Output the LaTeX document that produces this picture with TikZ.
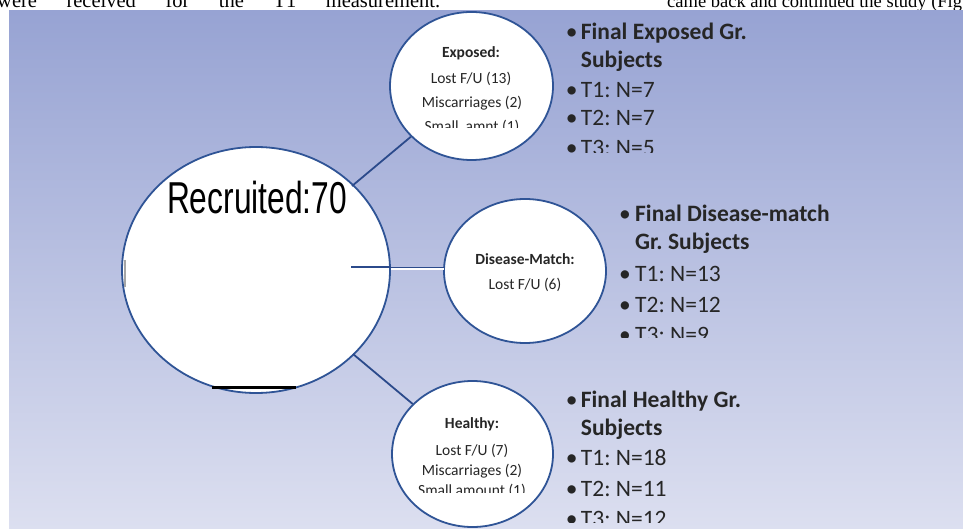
\documentclass[tikz,border=0pt]{standalone}
\usepackage{fontspec}
\setmainfont{Carlito}
\newfontfamily\pagefont{Liberation Serif}
\newfontfamily\recfont{Liberation Sans}
\usetikzlibrary{shapes.geometric}
\definecolor{bgtop}{HTML}{97A3D3}
\definecolor{bgbot}{HTML}{DCDFF0}
\definecolor{ringblue}{HTML}{2F5496}
\definecolor{navyline}{HTML}{2B4A8B}
\definecolor{txt}{HTML}{262626}
\tikzset{
  ring/.style={ellipse, draw=ringblue, line width=1.8pt, fill=white, inner sep=0pt},
  conn/.style={draw=navyline, line width=1.8pt},
  ctext/.style={anchor=base, inner sep=0pt, text=txt, font=\fontsize{15.5}{18}\selectfont},
  ltext/.style={anchor=base west, inner sep=0pt, text=txt, font=\fontsize{23.5}{28}\selectfont},
  lbul/.style={anchor=base, inner sep=0pt, text=txt, font=\fontsize{23.5}{28}\selectfont},
}
\frenchspacing
\begin{document}
\frenchspacing
\begin{tikzpicture}[x=1pt,y=-1pt]
\useasboundingbox (0,0) rectangle (963,529);
% page text above the figure
\begin{scope}
\clip (0,0) rectangle (963,10.5);
\node[anchor=base west, inner sep=0pt, font=\pagefont\fontsize{20.5}{24}\selectfont] (pg1) at (-3,7.5) {\makebox[443pt][s]{were received for the T1 measurement.}};
\node[anchor=base west, inner sep=0pt, font=\pagefont\fontsize{18.5}{24}\selectfont] (pg2) at (667,7.5) {came back and continued the study (Fig};
\end{scope}
% background
\fill[top color=bgtop, bottom color=bgbot] (9,11) rectangle (963,529);
% circles
\node[ring, minimum width=268pt, minimum height=246pt] (big) at (256,270) {};
\node[ring, minimum width=163pt, minimum height=148pt] (exp) at (471.5,86) {};
\node[ring, minimum width=162pt, minimum height=144pt] (dis) at (525,271) {};
\node[ring, minimum width=161pt, minimum height=146pt] (hea) at (472.5,454) {};
% connectors
\coordinate (c1) at (352,186);
\coordinate (c3) at (353,354);
\draw[conn] (c1) -- (exp);
\draw[conn] (c3) -- (hea);
\coordinate (h1) at (351,267);
\coordinate (h2) at (391,267);
\coordinate (h3) at (444,267);
\draw[conn] (h1) -- (h2);
\coordinate (h4) at (391,268.6);
\coordinate (h5) at (444,268.6);
\draw[white, line width=2pt] (h4) -- (h5);
\draw[navyline, line width=0.8pt] (h2) -- (h3);
% marks inside the big circle
\coordinate (g1) at (125,260);
\coordinate (g2) at (125,287);
\draw[gray!70, line width=1.5pt] (g1) -- (g2);
\coordinate (b1) at (212,387);
\coordinate (b2) at (296,387);
\draw[black, line width=3pt] (b1) -- (b2);
\node[anchor=base, inner sep=0pt] (rec) at (257,214) {\scalebox{0.71}[1]{\recfont\fontsize{44.7}{50}\selectfont Recruited:70}};
% texts in circles
\begin{scope}
\clip (390,11) rectangle (555,127.3);
\node[ctext] (e0) at (471,57.3) {\textbf{Exposed:}};
\node[ctext] (e1) at (471,83.3) {Lost F/U (13)};
\node[ctext] (e2) at (472,107.3) {Miscarriages (2)};
\node[ctext] (e3) at (472,131.3) {Small\ \ amnt (1)};
\end{scope}
\node[ctext] (d0) at (525,265) {\textbf{Disease-Match:}};
\node[ctext] (d1) at (525,289.3) {Lost F/U (6)};
\begin{scope}
\clip (390,380) rectangle (555,492.7);
\node[ctext] (k0) at (472,428.3) {\textbf{Healthy:}};
\node[ctext] (k1) at (472,455.7) {Lost F/U (7)};
\node[ctext] (k2) at (472,475) {Miscarriages (2)};
\node[ctext] (k3) at (472,495) {Small amount (1)};
\end{scope}
% lists
\begin{scope}
\clip (560,11) rectangle (963,152.7);
\node[lbul] (eb1) at (571.7,40) {•};
\node[ltext] (el1) at (580.7,40) {\textbf{Final Exposed Gr.}};
\node[ltext] (el2) at (580.7,68) {\textbf{Subjects}};
\node[lbul] (eb2) at (571.7,97.5) {•};
\node[ltext] (el3) at (580.7,97.5) {T1: N=7};
\node[lbul] (eb3) at (571.7,126) {•};
\node[ltext] (el4) at (580.7,126) {T2: N=7};
\node[lbul] (eb4) at (571.7,156) {•};
\node[ltext] (el5) at (580.7,156) {T3: N=5};
\end{scope}
\begin{scope}
\clip (610,190) rectangle (963,337);
\node[lbul] (db1) at (625,222) {•};
\node[ltext] (dl1) at (635,222) {\textbf{Final Disease-match}};
\node[ltext] (dl2) at (635,250) {\textbf{Gr. Subjects}};
\node[lbul] (db2) at (625,281) {•};
\node[ltext] (dl3) at (635,281) {T1: N=13};
\node[lbul] (db3) at (625,312) {•};
\node[ltext] (dl4) at (635,312) {T2: N=12};
\node[lbul] (db4) at (625,342) {•};
\node[ltext] (dl5) at (635,342) {T3: N=9};
\end{scope}
\begin{scope}
\clip (560,370) rectangle (963,522);
\node[lbul] (hb1) at (571.7,407) {•};
\node[ltext] (hl1) at (580.7,407) {\textbf{Final Healthy Gr.}};
\node[ltext] (hl2) at (580.7,435) {\textbf{Subjects}};
\node[lbul] (hb2) at (571.7,465) {•};
\node[ltext] (hl3) at (580.7,465) {T1: N=18};
\node[lbul] (hb3) at (571.7,496) {•};
\node[ltext] (hl4) at (580.7,496) {T2: N=11};
\node[lbul] (hb4) at (571.7,526) {•};
\node[ltext] (hl5) at (580.7,526) {T3: N=12};
\end{scope}
\end{tikzpicture}
\end{document}
